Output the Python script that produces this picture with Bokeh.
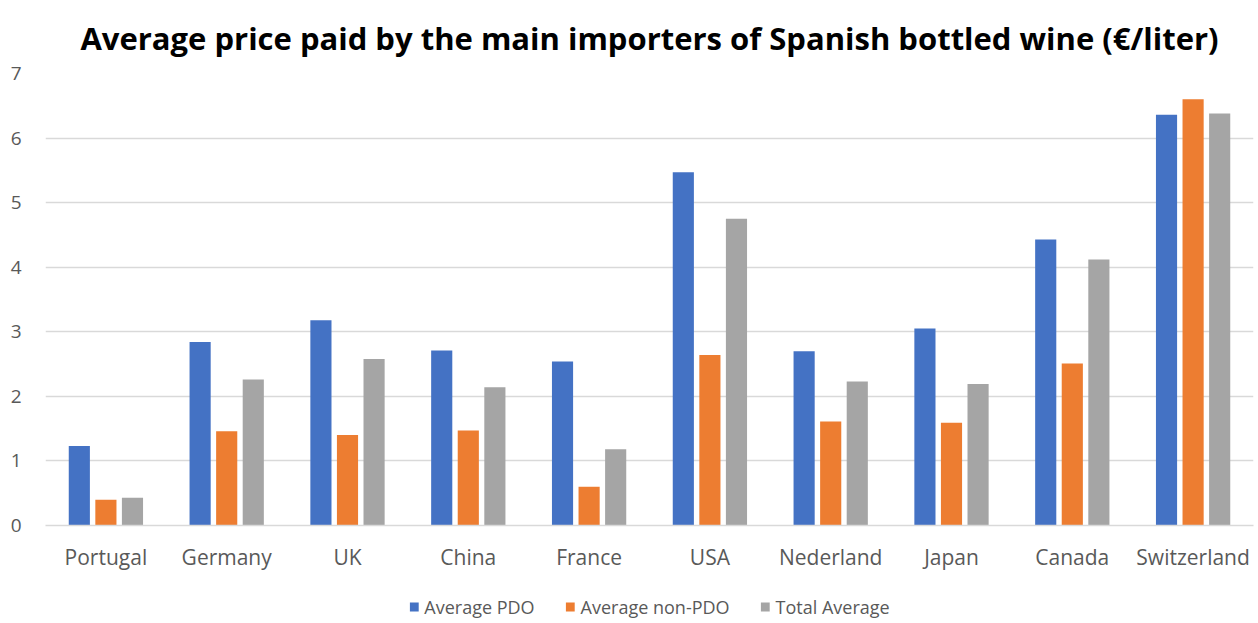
from bokeh.plotting import figure
from bokeh.models import ColumnDataSource, FactorRange, Legend, LegendItem, Title
from bokeh.layouts import column
from bokeh.transform import dodge
from bokeh.embed import file_html
from bokeh.resources import INLINE

countries = ["Portugal", "Germany", "UK", "China", "France", "USA",
             "Nederland", "Japan", "Canada", "Switzerland"]
avg_pdo = [1.23, 2.84, 3.18, 2.71, 2.54, 5.47, 2.70, 3.05, 4.43, 6.36]
avg_non_pdo = [0.40, 1.46, 1.40, 1.47, 0.60, 2.64, 1.61, 1.59, 2.51, 6.60]
total_avg = [0.43, 2.26, 2.58, 2.14, 1.18, 4.75, 2.23, 2.19, 4.12, 6.38]
series_names = ["Average PDO", "Average non-PDO", "Total Average"]
colors = ["#4472C4", "#ED7D31", "#A5A5A5"]
yticks = [0, 1, 2, 3, 4, 5, 6, 7]

FONT = "Open Sans"
TXT = "#595959"

src = ColumnDataSource(dict(c=countries, pdo=avg_pdo, npdo=avg_non_pdo, tot=total_avg))

p = figure(width=1258, height=590, x_range=FactorRange(*countries, range_padding=0),
           y_range=(0, 7), output_backend="svg", toolbar_location=None,
           min_border_left=45, min_border_right=5, min_border_top=73, min_border_bottom=65)
p.title = None
t = Title(text="Average price paid by the main importers of Spanish bottled wine (€/liter)",
          align="center", vertical_align="bottom", text_font=FONT, text_font_size="31px",
          text_font_style="bold", text_color="black", offset=0, standoff=29,
          text_line_height=1.35)
p.add_layout(t, "above")

offs = [-0.22, 0.0, 0.22]
fields = ["pdo", "npdo", "tot"]
for f, o, col in zip(fields, offs, colors):
    p.vbar(x=dodge("c", o, range=p.x_range), top=f, width=0.175, bottom=0,
           source=src, fill_color=col, line_color=None)

p.outline_line_color = None
p.background_fill_color = "white"
p.border_fill_color = "white"

p.xgrid.grid_line_color = None
p.ygrid.grid_line_color = "#D9D9D9"
p.ygrid.grid_line_width = 1.3
p.yaxis.ticker = yticks
p.yaxis.axis_line_color = None
p.yaxis.major_tick_line_color = None
p.yaxis.minor_tick_line_color = None
p.yaxis.major_label_standoff = 18
p.yaxis.major_label_text_font = FONT
p.yaxis.major_label_text_font_size = "19px"
p.yaxis.major_label_text_color = TXT

p.xaxis.axis_line_color = "#D9D9D9"
p.xaxis.axis_line_width = 1.3
p.xaxis.major_tick_line_color = None
p.xaxis.minor_tick_line_color = None
p.xaxis.major_label_standoff = 11
p.xaxis.major_label_text_font = FONT
p.xaxis.major_label_text_font_size = "21px"
p.xaxis.major_label_text_color = TXT

# legend strip below the chart (its bars lie outside its visible range)
p2 = figure(width=1258, height=33, output_backend="svg", toolbar_location=None,
            x_range=FactorRange(*countries), y_range=(10, 11), min_border=0)
p2.axis.visible = False
p2.grid.grid_line_color = None
p2.outline_line_color = None
p2.border_fill_color = "white"
p2.background_fill_color = "white"
leg_renderers = [p2.vbar(x="c", top=f, bottom=0, width=0.2, source=src,
                         fill_color=col, line_color=None)
                 for f, col in zip(fields, colors)]
legend = Legend(items=[LegendItem(label=n, renderers=[r]) for n, r in zip(series_names, leg_renderers)],
                orientation="horizontal", location="center",
                label_text_font=FONT, label_text_font_size="18px", label_text_color=TXT,
                glyph_width=11, glyph_height=11, spacing=30, label_standoff=5,
                border_line_color=None, background_fill_alpha=0, margin=0, padding=0)
p2.add_layout(legend, "center")

layout = column(p, p2, spacing=0)
open("out.html", "w").write(file_html(layout, INLINE))
